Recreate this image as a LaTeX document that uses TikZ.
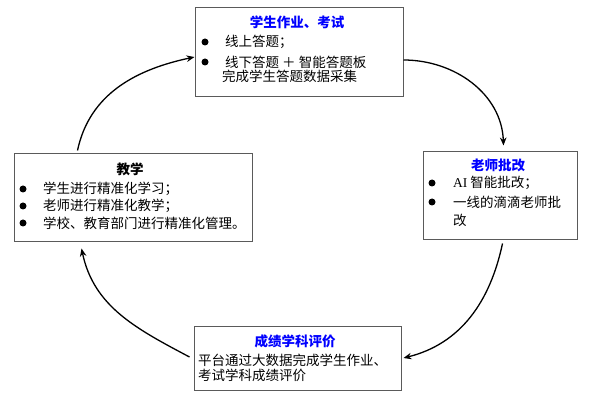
\documentclass[tikz,border=0pt]{standalone}
\usepackage{fontspec}
\setmainfont{Noto Sans CJK SC}
\newfontfamily\latinserif{Liberation Serif}
\usetikzlibrary{arrows.meta}
\definecolor{titleblue}{RGB}{0,0,255}
\definecolor{boxgray}{RGB}{90,90,90}
\tikzset{
  box/.style={draw=boxgray, line width=1pt, fill=white, inner sep=0pt},
  txt/.style={anchor=west, inner sep=0pt, font=\fontsize{13.5}{15}\selectfont},
  ttl/.style={anchor=center, inner sep=0pt, font=\fontsize{13.5}{15}\selectfont\bfseries, text=titleblue},
  ttlk/.style={anchor=center, inner sep=0pt, font=\fontsize{13.5}{15}\selectfont\bfseries, text=black},
  flow/.style={line width=1.3pt, -{Stealth[length=8pt,width=6.5pt]}},
  dot/.style={fill=black}
}
\begin{document}
\begin{tikzpicture}[x=1pt,y=-1pt]
\useasboundingbox (0,0) rectangle (599,403);
% boxes
\node[box, minimum width=208pt, minimum height=89pt] (T) at (299,52.5) {};
\node[box, minimum width=154pt, minimum height=88pt] (R) at (500,196) {};
\node[box, minimum width=238pt, minimum height=88pt] (L) at (133,198) {};
\node[box, minimum width=207pt, minimum height=64pt] (B) at (297.5,358) {};
% top box
\node[ttl] (t0) at (297,22) {学生作业、考试};
\fill[dot] (205,42) circle (3.5pt);
\node[txt] (t1) at (225,42) {线上答题；};
\fill[dot] (205,62) circle (3.5pt);
\node[txt] (t2) at (225,62) {线下答题 ＋ 智能答题板};
\node[txt] (t3) at (222,76) {完成学生答题数据采集};
% right box
\node[ttl] (r0) at (498,165) {老师批改};
\fill[dot] (432,183) circle (3.5pt);
\node[txt] (r1) at (453,183) {{\latinserif AI} 智能批改；};
\fill[dot] (432,202) circle (3.5pt);
\node[txt] (r2) at (453,202) {一线的滴滴老师批};
\node[txt] (r3) at (453,220) {改};
% left box
\node[ttlk] (l0) at (130,169) {教学};
\fill[dot] (23,189) circle (3.5pt);
\node[txt] (l1) at (43,189) {学生进行精准化学习；};
\fill[dot] (23,206) circle (3.5pt);
\node[txt] (l2) at (43,206) {老师进行精准化教学；};
\fill[dot] (23,223) circle (3.5pt);
\node[txt] (l3) at (43,223) {学校、教育部门进行精准化管理。};
% bottom box
\node[ttl] (b0) at (295,341) {成绩学科评价};
\node[txt] (b1) at (198,360) {平台通过大数据完成学生作业、};
\node[txt] (b2) at (198,375) {考试学科成绩评价};
% connectors
\draw[flow] ([xshift=64pt,yshift=3pt]L.north west) to[out=78, in=192] ([yshift=-4.5pt]T.west);
\draw[flow] ([yshift=-7.5pt]T.east) to[out=0, in=92] ([xshift=81pt,yshift=6pt]R.north west);
\draw[flow] ([xshift=80pt,yshift=-3pt]R.south west) to[out=-102, in=14] ([xshift=2pt,yshift=0pt]B.east);
\draw[flow] ([xshift=-4pt,yshift=1pt]B.west) to[out=152, in=-78] ([xshift=68pt,yshift=-6pt]L.south west);
\end{tikzpicture}
\end{document}
